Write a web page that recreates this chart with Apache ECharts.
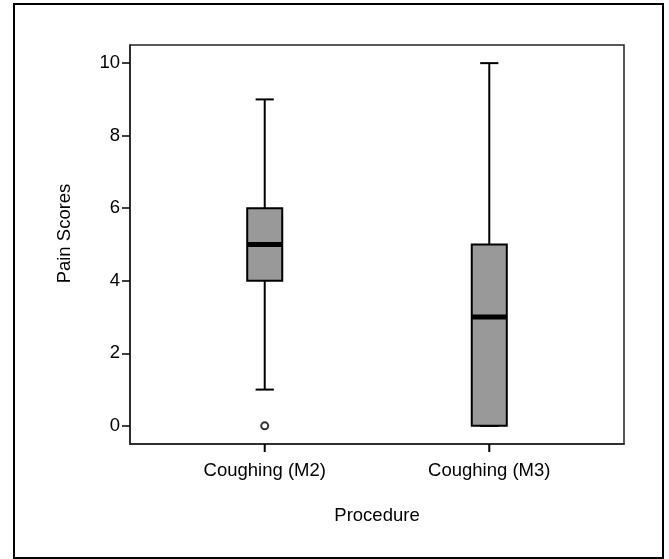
<!DOCTYPE html>
<html>
<head>
<meta charset="utf-8">
<script src="https://cdn.jsdelivr.net/npm/echarts@6/dist/echarts.min.js"></script>
<style>
  html, body { margin: 0; padding: 0; background: #fff; }
  #chart { width: 669px; height: 559px; }
</style>
</head>
<body>
<div id="chart"></div>
<script>
const categories = ["Coughing (M2)", "Coughing (M3)"];
// five-number summaries per group: lower whisker, Q1, median, Q3, upper whisker
const lowWhisker = [1, 0];
const q1 = [4, 0];
const median = [5, 3];
const q3 = [6, 5];
const highWhisker = [9, 10];
const outliers = [[1, 0]];
const xTicks = [1, 2];
const yTicks = [0, 2, 4, 6, 8, 10];
const yMin = -0.5;
const yMax = 10.5;

const boxData = categories.map((c, i) => [i + 1, lowWhisker[i], q1[i], median[i], q3[i], highWhisker[i]]);

const chart = echarts.init(document.getElementById("chart"));
const font = "Liberation Sans, Arial, Helvetica, sans-serif";

function renderBox(params, api) {
  const x = api.value(0);
  const lo = api.coord([x, api.value(1)]);
  const b1 = api.coord([x, api.value(2)]);
  const md = api.coord([x, api.value(3)]);
  const b3 = api.coord([x, api.value(4)]);
  const hi = api.coord([x, api.value(5)]);
  const unit = api.size([1, 0])[0];
  const half = unit * 0.078;
  const cap = half * 0.52;
  const cx = lo[0];
  const line = { stroke: "#000", lineWidth: 2 };
  return {
    type: "group",
    children: [
      { type: "line", shape: { x1: cx, y1: lo[1], x2: cx, y2: b1[1] }, style: line },
      { type: "line", shape: { x1: cx, y1: b3[1], x2: cx, y2: hi[1] }, style: line },
      { type: "line", shape: { x1: cx - cap, y1: lo[1], x2: cx + cap, y2: lo[1] }, style: line },
      { type: "line", shape: { x1: cx - cap, y1: hi[1], x2: cx + cap, y2: hi[1] }, style: line },
      { type: "rect", shape: { x: cx - half, y: b3[1], width: half * 2, height: b1[1] - b3[1] },
        style: { fill: "#999999", stroke: "#000", lineWidth: 2 } },
      { type: "line", shape: { x1: cx - half, y1: md[1], x2: cx + half, y2: md[1] },
        style: { stroke: "#000", lineWidth: 5 } }
    ]
  };
}

chart.setOption({
  animation: false,
  backgroundColor: "#fff",
  grid: {
    left: 130, top: 45, right: 45, bottom: 115,
    show: true, borderColor: "#222", borderWidth: 1.5, backgroundColor: "transparent"
  },
  xAxis: {
    type: "value", min: 0.4, max: 2.6,
    name: "Procedure", nameLocation: "middle", nameGap: 62,
    nameTextStyle: { fontFamily: font, fontSize: 18.5, color: "#000" },
    splitLine: { show: false },
    axisLine: { show: true, onZero: false, lineStyle: { color: "#222", width: 1.5 } },
    axisTick: { show: false },
    axisLabel: {
      customValues: xTicks, margin: 17,
      fontFamily: font, fontSize: 18.5, color: "#000",
      formatter: v => categories[Math.round(v) - 1] || ""
    }
  },
  yAxis: {
    type: "value", min: yMin, max: yMax,
    name: "Pain Scores", nameLocation: "middle", nameGap: 56,
    nameTextStyle: { fontFamily: font, fontSize: 18.5, color: "#000", padding: [0, 0, 0, 22] },
    splitLine: { show: false },
    axisLine: { show: true, onZero: false, lineStyle: { color: "#222", width: 1.5 } },
    axisTick: { show: true, length: 8, customValues: yTicks, lineStyle: { color: "#000", width: 1.5 } },
    axisLabel: {
      customValues: yTicks, margin: 10,
      fontFamily: font, fontSize: 18.5, color: "#000"
    }
  },
  series: [
    {
      type: "custom",
      renderItem: renderBox,
      encode: { x: 0, y: [1, 2, 3, 4, 5] },
      data: boxData,
      z: 3
    },
    {
      type: "scatter",
      data: outliers,
      symbol: "circle",
      symbolSize: 7,
      itemStyle: { color: "#fff", borderColor: "#000", borderWidth: 2 },
      z: 4
    }
  ]
});

// outer frame plus x ticks, placed through the scatter series' cartesian scale
const tickMarks = xTicks.map(v => {
  const p = chart.convertToPixel({ seriesIndex: 1 }, [v, yMin]);
  return {
    type: "line", z: 100, silent: true,
    shape: { x1: p[0], y1: p[1], x2: p[0], y2: p[1] + 8 },
    style: { stroke: "#000", lineWidth: 2 }
  };
});
chart.setOption({
  graphic: [{
    type: "rect", silent: true,
    shape: { x: 14, y: 4, width: 649, height: 554 },
    style: { fill: "none", stroke: "#000", lineWidth: 2 }
  }].concat(tickMarks)
});
</script>
</body>
</html>
